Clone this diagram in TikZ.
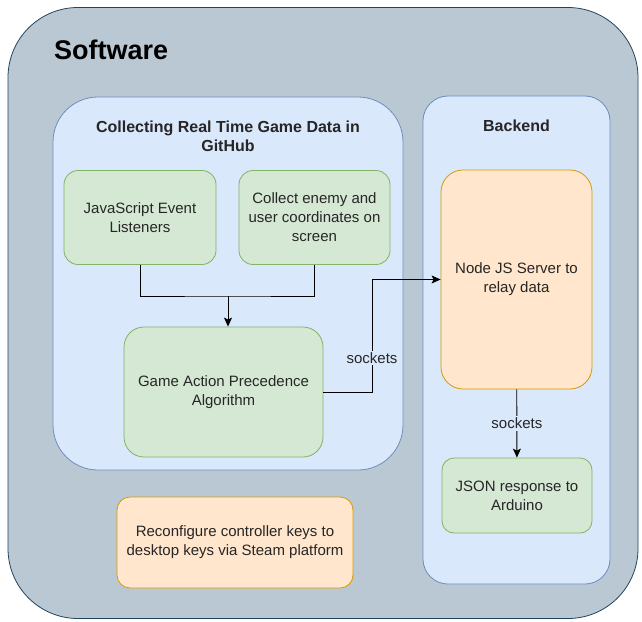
\documentclass[tikz,border=0pt]{standalone}
\usepackage{fontspec}
\setmainfont{Liberation Sans}
\usepackage{xcolor}
\usepackage{tikz}
\usetikzlibrary{arrows.meta, positioning, calc}
\definecolor{swfill}{HTML}{BAC8D3}
\definecolor{swline}{HTML}{23445D}
\definecolor{bgblue}{HTML}{DAE8FC}
\definecolor{lnblue}{HTML}{6C8EBF}
\definecolor{bggreen}{HTML}{D5E8D4}
\definecolor{lngreen}{HTML}{82B366}
\definecolor{bgorange}{HTML}{FFE6CC}
\definecolor{lnorange}{HTML}{D79B00}

\begin{document}
\begin{tikzpicture}[x=1pt, y=-1pt,
  box/.style={draw, line width=0.8pt, align=center, inner sep=0pt,
    font=\fontsize{15}{19}\selectfont, text=black!85},
  greenbox/.style={box, fill=bggreen, draw=lngreen},
  orangebox/.style={box, fill=bgorange, draw=lnorange},
  panel/.style={draw=lnblue, fill=bgblue, line width=0.8pt, inner sep=0pt},
  title/.style={font=\bfseries\fontsize{16}{19}\selectfont, align=center, text=black!85},
  link/.style={-{Stealth[length=9pt,width=8pt,inset=2pt]}, line width=0.9pt},
  lbl/.style={fill=bgblue, font=\fontsize{15}{19}\selectfont, inner sep=1.5pt, text=black!85}]

\useasboundingbox (0,0) rectangle (642,621);

% Outer frame
\node[draw=swline, fill=swfill, line width=0.8pt, rounded corners=70pt,
  minimum width=630pt, minimum height=611pt, inner sep=0pt] (software) at (323,313) {};
\node[anchor=base west, inner sep=0pt, font=\bfseries\fontsize{27}{32}\selectfont] (swtitle) at (54,59) {Software};

% Game data panel
\node[panel, rounded corners=45pt, minimum width=350pt, minimum height=373pt] (collect) at (228,283.5) {};
\node[title] (collecttitle) at (228,136) {Collecting Real Time Game Data in\\GitHub};

% Backend panel
\node[panel, rounded corners=25pt, minimum width=187pt, minimum height=488pt] (backend) at (516.5,340) {};
\node[title] (backendtitle) at (516.5,126) {Backend};

% Browser side
\node[greenbox, rounded corners=14pt, minimum width=152pt, minimum height=94pt] (listeners) at (140,217.5) {JavaScript Event\\Listeners};
\node[greenbox, rounded corners=14pt, minimum width=151pt, minimum height=94pt] (coords) at (314.5,217.5) {Collect enemy and\\user coordinates on\\screen};
\node[greenbox, rounded corners=20pt, minimum width=199pt, minimum height=130pt] (precedence) at (223.5,392) {Game Action Precedence\\Algorithm};

% Server side
\node[orangebox, rounded corners=22pt, minimum width=151pt, minimum height=219pt] (server) at (516.5,279.5) {Node JS Server to\\relay data};
\node[greenbox, rounded corners=12pt, minimum width=150pt, minimum height=75pt] (json) at (517,495.5) {JSON response to\\Arduino};

% Controller mapping
\node[orangebox, rounded corners=13pt, minimum width=236pt, minimum height=91pt] (steam) at (235,542.5) {Reconfigure controller keys to\\desktop keys via Steam platform};

% Both inputs merge into the algorithm
\coordinate (join) at (228,296);
\draw[line width=0.9pt] (listeners.south) |- (join) -| (coords.south);
\draw[link] (join) -- (join |- precedence.north);

% Sockets
\coordinate (hop) at (372,0);
\draw[link] (precedence.east) -| node[lbl, pos=0.65] {sockets} (hop |- server.west) -- (server.west);
\draw[link] (server) -- node[lbl] {sockets} (json);
\end{tikzpicture}
\end{document}
